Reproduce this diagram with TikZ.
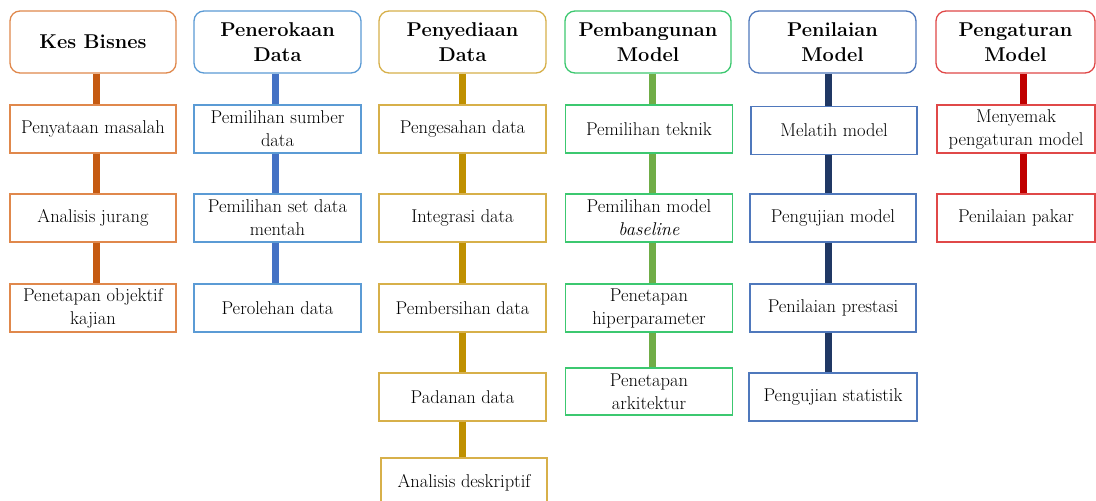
\documentclass[tikz,border=0pt]{standalone}
\definecolor{bdA}{HTML}{E0884C}
\definecolor{lnA}{HTML}{C55A11}
\definecolor{bdB}{HTML}{5B9BD5}
\definecolor{lnB}{HTML}{4472C4}
\definecolor{bdC}{HTML}{D7B04A}
\definecolor{lnC}{HTML}{BF9000}
\definecolor{bdD}{HTML}{3CC870}
\definecolor{lnD}{HTML}{70AD47}
\definecolor{bdE}{HTML}{4F78BC}
\definecolor{lnE}{HTML}{203864}
\definecolor{bdF}{HTML}{E04848}
\definecolor{lnF}{HTML}{C00000}
\begin{document}
\begin{tikzpicture}[x=1pt,y=-1pt,
  head/.style={draw=#1, line width=1.3pt, rounded corners=10pt, fill=white,
    minimum width=166pt, minimum height=62pt, align=center, inner sep=0pt,
    font=\fontsize{20}{25}\selectfont\bfseries},
  item/.style={draw=#1, line width=1.3pt, fill=white,
    minimum width=166pt, minimum height=48pt, align=center, inner sep=0pt,
    font=\fontsize{18.5}{23}\selectfont},
  link/.style={draw=#1, line width=7pt},
]
\clip (0,0) rectangle (1096,501);
\fill[white] (0,0) rectangle (1096,501);

% spine positions of the six columns
\coordinate (x1) at (96,0);
\coordinate (x2) at (275,0);
\coordinate (x3) at (462,0);
\coordinate (x4) at (652,0);
\coordinate (x5) at (828,0);
\coordinate (x6) at (1023.5,0);

% Kes Bisnes
\node[head=bdA] (h1) at (93,42) {Kes Bisnes};
\node[item=bdA] (a1) at (93,129) {Penyataan masalah};
\node[item=bdA] (a2) at (93,218) {Analisis jurang};
\node[item=bdA] (a3) at (93,308) {Penetapan objektif\\kajian};

% Penerokaan Data
\node[head=bdB, minimum width=167pt] (h2) at (277.5,42) {Penerokaan\\Data};
\node[item=bdB, minimum width=167pt] (b1) at (277.5,129) {Pemilihan sumber\\data};
\node[item=bdB, minimum width=167pt] (b2) at (277.5,218) {Pemilihan set data\\mentah};
\node[item=bdB, minimum width=167pt] (b3) at (277.5,308) {Perolehan data};

% Penyediaan Data
\node[head=bdC, minimum width=167pt] (h3) at (462.5,42) {Penyediaan\\Data};
\node[item=bdC, minimum width=167pt] (c1) at (462.5,129) {Pengesahan data};
\node[item=bdC, minimum width=167pt] (c2) at (462.5,218) {Integrasi data};
\node[item=bdC, minimum width=167pt] (c3) at (462.5,308) {Pembersihan data};
\node[item=bdC, minimum width=167pt] (c4) at (462.5,397) {Padanan data};
\node[item=bdC, minimum width=166pt, minimum height=50pt] (c5) at (464,483) {Analisis deskriptif};

% Pembangunan Model
\node[head=bdD] (h4) at (648,42) {Pembangunan\\Model};
\node[item=bdD, minimum width=167pt] (d1) at (649,129) {Pemilihan teknik};
\node[item=bdD, minimum width=167pt] (d2) at (649,218) {Pemilihan model\\\textit{baseline}};
\node[item=bdD, minimum width=167pt] (d3) at (649,308) {Penetapan\\hiperparameter};
\node[item=bdD, minimum width=167pt, minimum height=47pt] (d4) at (649,391.5) {Penetapan\\arkitektur};

% Penilaian Model
\node[head=bdE, minimum width=167pt] (h5) at (832.5,42) {Penilaian\\Model};
\node[item=bdE] (e1) at (834,130.5) {Melatih model};
\node[item=bdE] (e2) at (833,218) {Pengujian model};
\node[item=bdE] (e3) at (833,308) {Penilaian prestasi};
\node[item=bdE, minimum width=168pt] (e4) at (833,397) {Pengujian statistik};

% Pengaturan Model
\node[head=bdF, minimum width=159pt] (h6) at (1015.5,42) {Pengaturan\\Model};
\node[item=bdF, minimum width=158pt] (f1) at (1016,129) {Menyemak\\pengaturan model};
\node[item=bdF, minimum width=158pt] (f2) at (1016,218) {Penilaian pakar};

% spines joining each column
\draw[link=lnA] (h1.south -| x1) -- (a1.north -| x1);
\draw[link=lnA] (a1.south -| x1) -- (a2.north -| x1);
\draw[link=lnA] (a2.south -| x1) -- (a3.north -| x1);

\draw[link=lnB] (h2.south -| x2) -- (b1.north -| x2);
\draw[link=lnB] (b1.south -| x2) -- (b2.north -| x2);
\draw[link=lnB] (b2.south -| x2) -- (b3.north -| x2);

\draw[link=lnC] (h3.south -| x3) -- (c1.north -| x3);
\draw[link=lnC] (c1.south -| x3) -- (c2.north -| x3);
\draw[link=lnC] (c2.south -| x3) -- (c3.north -| x3);
\draw[link=lnC] (c3.south -| x3) -- (c4.north -| x3);
\draw[link=lnC] (c4.south -| x3) -- (c5.north -| x3);

\draw[link=lnD] (h4.south -| x4) -- (d1.north -| x4);
\draw[link=lnD] (d1.south -| x4) -- (d2.north -| x4);
\draw[link=lnD] (d2.south -| x4) -- (d3.north -| x4);
\draw[link=lnD] (d3.south -| x4) -- (d4.north -| x4);

\draw[link=lnE] (h5.south -| x5) -- (e1.north -| x5);
\draw[link=lnE] (e1.south -| x5) -- (e2.north -| x5);
\draw[link=lnE] (e2.south -| x5) -- (e3.north -| x5);
\draw[link=lnE] (e3.south -| x5) -- (e4.north -| x5);

\draw[link=lnF] (h6.south -| x6) -- (f1.north -| x6);
\draw[link=lnF] (f1.south -| x6) -- (f2.north -| x6);
\end{tikzpicture}
\end{document}
